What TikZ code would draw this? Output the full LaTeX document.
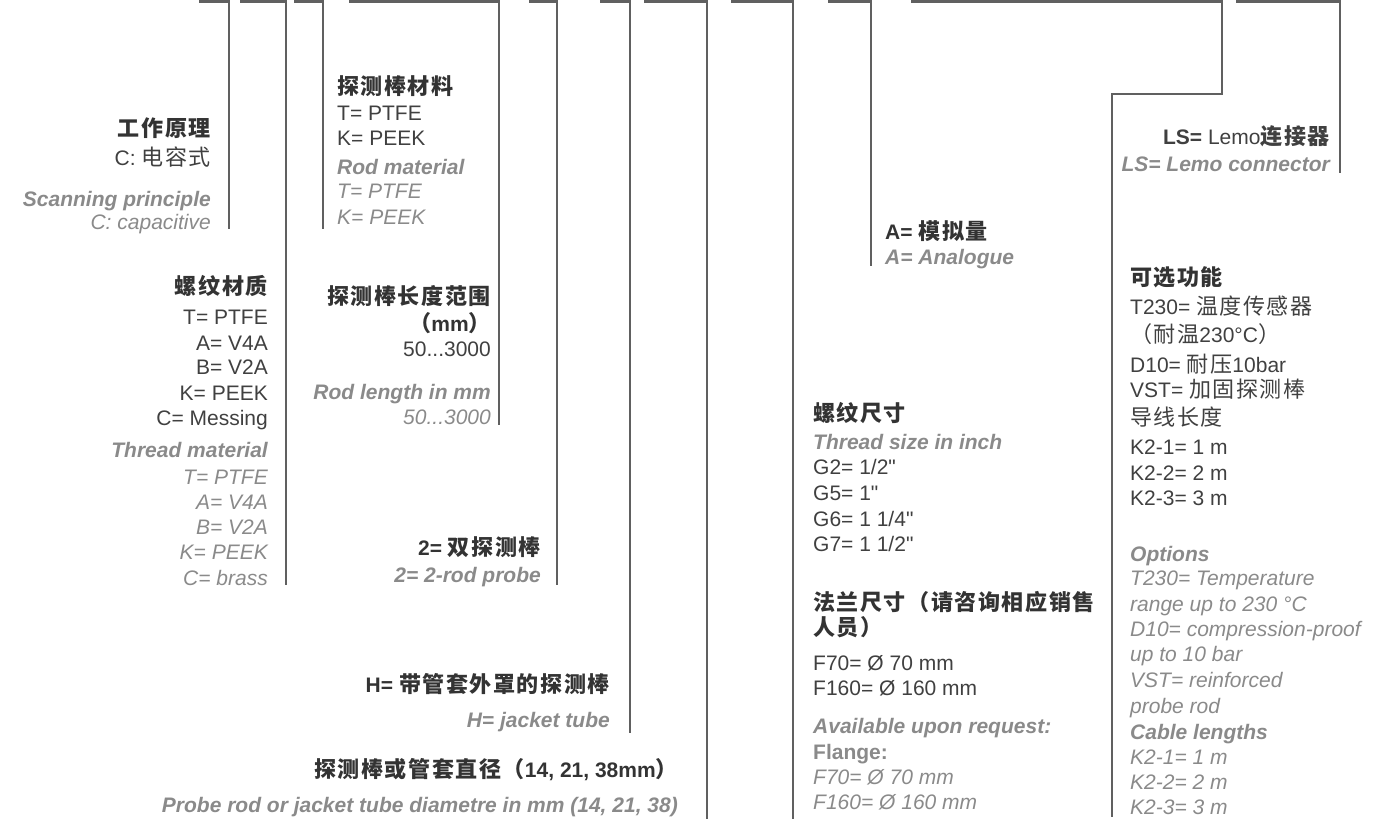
\documentclass[tikz,border=0pt]{standalone}
\usepackage{fontspec}
\newfontfamily\latf{Liberation Sans}
\newfontfamily\cjkf{Noto Sans CJK SC}[LetterSpace=7,Scale=1.05]
\newcommand\zh[1]{{\cjkf #1}}
\newcommand\zhb[1]{{\cjkf\bfseries #1}}
\definecolor{txtdark}{HTML}{404040}
\definecolor{txthead}{HTML}{333333}
\definecolor{txtgray}{HTML}{8A8A8A}
\definecolor{linegray}{HTML}{606060}
\tikzset{
  basetxt/.style={inner sep=0pt},
  rside/.style={basetxt, anchor=base east},
  lside/.style={basetxt, anchor=base west},
  dk/.style={text=txtdark, font=\latf\fontsize{21}{25}\selectfont},
  hd/.style={text=txthead, font=\latf\fontsize{21}{25}\selectfont\bfseries},
  en/.style={text=txtgray, font=\latf\fontsize{21}{25}\selectfont\itshape},
  enb/.style={text=txtgray, font=\latf\fontsize{21}{25}\selectfont\bfseries\itshape},
  fl/.style={text=txtgray, font=\latf\fontsize{21}{25}\selectfont\bfseries},
  bracket/.style={draw=linegray, line width=2.6pt}
}
\begin{document}
\begin{tikzpicture}[x=1pt,y=-1pt]
\useasboundingbox (0,0) rectangle (1396,825);
% ---------- bracket lines ----------
\coordinate (l1s) at (199,1.5);  \coordinate (l1e) at (229,229);
\coordinate (l2s) at (240,1.5);  \coordinate (l2e) at (286,585);
\coordinate (l3s) at (294,1.5);  \coordinate (l3e) at (323,229);
\coordinate (l4s) at (349,1.5);  \coordinate (l4e) at (499,425);
\coordinate (l5s) at (529,1.5);  \coordinate (l5e) at (557,585);
\coordinate (l6s) at (600,1.5);  \coordinate (l6e) at (630,733);
\coordinate (l7s) at (644,1.5);  \coordinate (l7e) at (707,819);
\coordinate (l8s) at (731,1.5);  \coordinate (l8e) at (793,819);
\coordinate (l9s) at (828,1.5);  \coordinate (l9e) at (871,266);
\coordinate (l10s) at (911,1.5); \coordinate (l10k) at (1222,94);
\coordinate (l10j) at (1112,94); \coordinate (l10e) at (1112,817);
\coordinate (l11s) at (1236,1.5); \coordinate (l11e) at (1340,173);
\draw[bracket] (l1s) -| (l1e);
\draw[bracket] (l2s) -| (l2e);
\draw[bracket] (l3s) -| (l3e);
\draw[bracket] (l4s) -| (l4e);
\draw[bracket] (l5s) -| (l5e);
\draw[bracket] (l6s) -| (l6e);
\draw[bracket] (l7s) -| (l7e);
\draw[bracket] (l8s) -| (l8e);
\draw[bracket] (l9s) -| (l9e);
\draw[bracket] (l10s) -| (l10k) -- (l10j) -- (l10e);
\draw[bracket] (l11s) -| (l11e);
% ---------- block 1 ----------
\node[rside,hd]  (b1h) at (211,136) {\zhb{工作原理}};
\node[rside,dk]  (b1a) at (211,165) {C: \zh{电容式}};
\node[rside,enb] (b1e) at (211,206) {Scanning principle};
\node[rside,en]  (b1f) at (211,229) {C: capacitive};
% ---------- block 3 ----------
\node[lside,hd]  (b3h) at (337,94)  {\zhb{探测棒材料}};
\node[lside,dk]  (b3a) at (337,120) {T= PTFE};
\node[lside,dk]  (b3b) at (337,145) {K= PEEK};
\node[lside,enb] (b3e) at (337,174) {Rod material};
\node[lside,en]  (b3f) at (337,198) {T= PTFE};
\node[lside,en]  (b3g) at (337,224) {K= PEEK};
% ---------- block 2 ----------
\node[rside,hd]  (b2h) at (268,294) {\zhb{螺纹材质}};
\node[rside,dk]  (b2a) at (268,324) {T= PTFE};
\node[rside,dk]  (b2b) at (268,350) {A= V4A};
\node[rside,dk]  (b2c) at (268,374) {B= V2A};
\node[rside,dk]  (b2d) at (268,400) {K= PEEK};
\node[rside,dk]  (b2f) at (268,425) {C= Messing};
\node[rside,enb] (b2e) at (268,457) {Thread material};
\node[rside,en]  (b2g) at (268,484) {T= PTFE};
\node[rside,en]  (b2i) at (268,509) {A= V4A};
\node[rside,en]  (b2j) at (268,534) {B= V2A};
\node[rside,en]  (b2k) at (268,559) {K= PEEK};
\node[rside,en]  (b2l) at (268,585) {C= brass};
% ---------- block 4 ----------
\node[rside,hd]  (b4h) at (491,304) {\zhb{探测棒长度范围}};
\node[rside,hd]  (b4u) at (491,331) {\zhb{（}mm\zhb{）}};
\node[rside,dk]  (b4a) at (491,356) {50...3000};
\node[rside,enb] (b4e) at (491,399) {Rod length in mm};
\node[rside,en]  (b4f) at (491,424) {50...3000};
% ---------- block 5 ----------
\node[rside,hd]  (b5h) at (541,555) {2= \zhb{双探测棒}};
\node[rside,enb] (b5e) at (541,582) {2= 2-rod probe};
% ---------- block 6 ----------
\node[rside,hd]  (b6h) at (610,692) {H= \zhb{带管套外罩的探测棒}};
\node[rside,enb] (b6e) at (610,727) {H= jacket tube};
% ---------- block 7 ----------
\node[rside,hd]  (b7h) at (678,777) {\zhb{探测棒或管套直径（}14, 21, 38mm\zhb{）}};
\node[rside,enb] (b7e) at (678,812) {Probe rod or jacket tube diametre in mm (14, 21, 38)};
% ---------- block 8 ----------
\node[lside,hd]  (b8h) at (813,421) {\zhb{螺纹尺寸}};
\node[lside,enb] (b8e) at (813,449) {Thread size in inch};
\node[lside,dk]  (b8a) at (813,474) {G2= 1/2"};
\node[lside,dk]  (b8b) at (813,500) {G5= 1"};
\node[lside,dk]  (b8c) at (813,526) {G6= 1 1/4"};
\node[lside,dk]  (b8d) at (813,551) {G7= 1 1/2"};
\node[lside,hd]  (b8f) at (813,610) {\zhb{法兰尺寸（请咨询相应销售}};
\node[lside,hd]  (b8g) at (813,635) {\zhb{人员）}};
\node[lside,dk]  (b8i) at (813,670) {F70= Ø 70 mm};
\node[lside,dk]  (b8j) at (813,695) {F160= Ø 160 mm};
\node[lside,enb] (b8k) at (813,733) {Available upon request:};
\node[lside,fl]  (b8l) at (813,759) {Flange:};
\node[lside,en]  (b8m) at (813,784) {F70= Ø 70 mm};
\node[lside,en]  (b8n) at (813,809) {F160= Ø 160 mm};
% ---------- block 9 ----------
\node[lside,hd]  (b9h) at (885,239) {A= \zhb{模拟量}};
\node[lside,enb] (b9e) at (885,264) {A= Analogue};
% ---------- block 10 ----------
\node[lside,hd]  (b10h) at (1130,285) {\zhb{可选功能}};
\node[lside,dk]  (b10a) at (1130,314) {T230= \zh{温度传感器}};
\node[lside,dk]  (b10b) at (1130,342) {\zh{（耐温}230°C\zh{）}};
\node[lside,dk]  (b10c) at (1130,372) {D10= \zh{耐压}10bar};
\node[lside,dk]  (b10d) at (1130,397) {VST= \zh{加固探测棒}};
\node[lside,dk]  (b10f) at (1130,425) {\zh{导线长度}};
\node[lside,dk]  (b10g) at (1130,454) {K2-1= 1 m};
\node[lside,dk]  (b10i) at (1130,480) {K2-2= 2 m};
\node[lside,dk]  (b10j) at (1130,505) {K2-3= 3 m};
\node[lside,enb] (b10e) at (1130,561) {Options};
\node[lside,en]  (b10k) at (1130,585) {T230= Temperature};
\node[lside,en]  (b10l) at (1130,611) {range up to 230 °C};
\node[lside,en]  (b10m) at (1130,636) {D10= compression-proof};
\node[lside,en]  (b10n) at (1130,661) {up to 10 bar};
\node[lside,en]  (b10o) at (1130,687) {VST= reinforced};
\node[lside,en]  (b10p) at (1130,713) {probe rod};
\node[lside,enb] (b10q) at (1130,739) {Cable lengths};
\node[lside,en]  (b10r) at (1130,764) {K2-1= 1 m};
\node[lside,en]  (b10s) at (1130,789) {K2-2= 2 m};
\node[lside,en]  (b10t) at (1130,814) {K2-3= 3 m};
% ---------- block 11 ----------
\node[rside,dk]  (b11h) at (1330,144) {\textbf{LS=} Lemo\zhb{连接器}};
\node[rside,enb] (b11e) at (1330,171) {LS= Lemo connector};
\end{tikzpicture}
\end{document}
